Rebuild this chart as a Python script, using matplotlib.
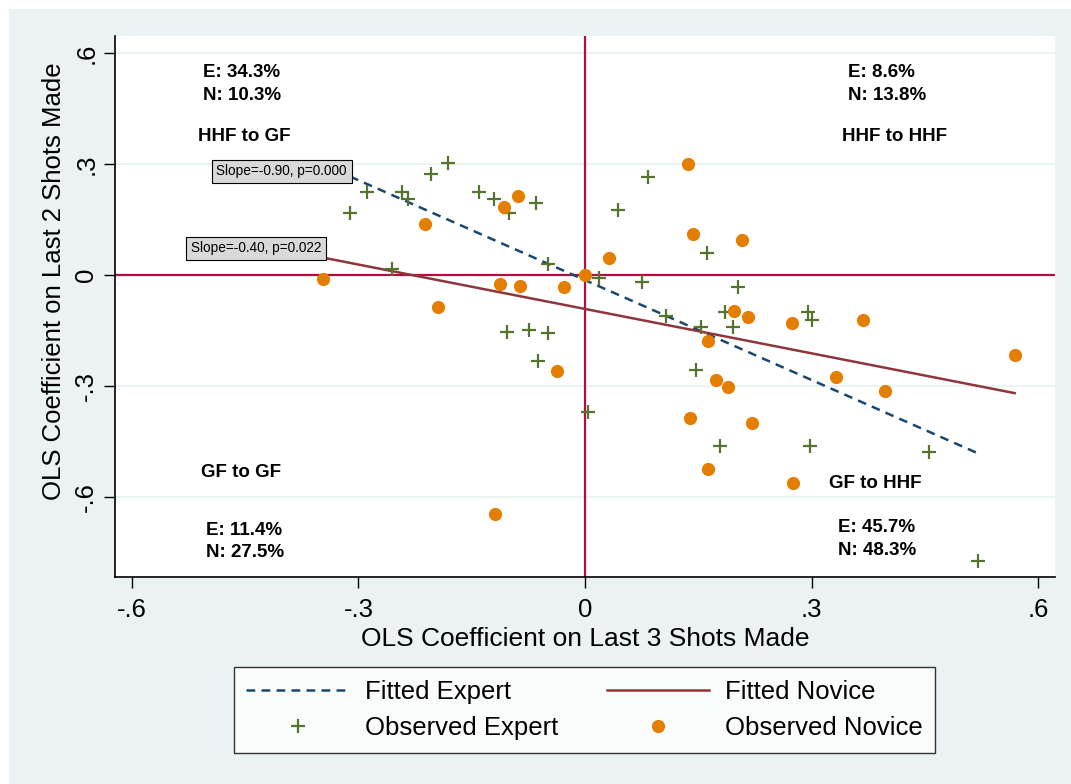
import numpy as np
import matplotlib
matplotlib.use("Agg")
import matplotlib.pyplot as plt
from matplotlib.lines import Line2D
from matplotlib.patches import Rectangle

plt.rcParams['font.family'] = ['Liberation Sans', 'DejaVu Sans']

# observed coefficients (x: last 3 shots, y: last 2 shots)
expert_x = [-0.182, -0.204, -0.289, -0.242, -0.234, -0.311, -0.255, -0.140, -0.120, -0.101,
            -0.065, -0.049, 0.018, 0.044, 0.083, 0.161, 0.075, 0.203, -0.103, -0.074,
            -0.049, -0.062, 0.004, 0.107, 0.154, 0.185, 0.196, 0.147, 0.179, 0.296,
            0.301, 0.298, 0.455, 0.521]
expert_y = [0.303, 0.274, 0.224, 0.224, 0.206, 0.169, 0.016, 0.226, 0.205, 0.168,
            0.195, 0.030, -0.006, 0.176, 0.267, 0.059, -0.019, -0.032, -0.154, -0.148,
            -0.157, -0.233, -0.371, -0.109, -0.141, -0.100, -0.141, -0.256, -0.461, -0.100,
            -0.121, -0.461, -0.479, -0.772]

novice_x = [-0.212, -0.107, -0.089, 0.032, 0.136, 0.143, 0.208, -0.347, -0.195, -0.113,
            -0.086, -0.028, -0.037, -0.119, 0.000, 0.198, 0.216, 0.163, 0.174, 0.190,
            0.139, 0.221, 0.163, 0.274, 0.368, 0.569, 0.332, 0.398, 0.276]
novice_y = [0.139, 0.184, 0.214, 0.048, 0.301, 0.112, 0.095, -0.011, -0.087, -0.024,
            -0.029, -0.032, -0.260, -0.645, 0.000, -0.097, -0.112, -0.179, -0.283, -0.301,
            -0.387, -0.400, -0.524, -0.130, -0.121, -0.215, -0.274, -0.312, -0.562]

# fitted lines (intercept, slope)
fit_expert = (-0.013, -0.90)
fit_novice = (-0.091, -0.40)
slope_labels = ["Slope=-0.90, p=0.000", "Slope=-0.40, p=0.022"]

quadrant_names = ["HHF to GF", "HHF to HHF", "GF to GF", "GF to HHF"]
quadrant_shares = [("E: 34.3%", "N: 10.3%"), ("E: 8.6%", "N: 13.8%"),
                   ("E: 11.4%", "N: 27.5%"), ("E: 45.7%", "N: 48.3%")]

ticks = [-0.6, -0.3, 0, 0.3, 0.6]
tick_labels = ["-.6", "-.3", "0", ".3", ".6"]

bg = '#EAF2F3'
c_expert_fit = '#1A476F'
c_novice_fit = '#90353B'
c_expert = '#55752F'
c_novice = '#E37E00'
c_ref = '#B01040'

fig = plt.figure(figsize=(10.71, 7.84), dpi=100, facecolor='white')
fig.patches.append(Rectangle((9 / 1071, 0), 1, 1 - 9 / 784, transform=fig.transFigure,
                             facecolor=bg, edgecolor='none', zorder=-10))

ax = fig.add_axes([115 / 1071, 1 - 576.7 / 784, 940 / 1071, 540.7 / 784])
ax.set_facecolor('white')
ax.set_xlim(-0.6225, 0.6225)
ax.set_ylim(-0.815, 0.647)

for v in [-0.6, -0.3, 0.3, 0.6]:
    ax.axhline(v, color=bg, lw=1.5, zorder=0)
ax.axhline(0, color=c_ref, lw=1.6, zorder=1)
ax.axvline(0, color=c_ref, lw=1.6, zorder=1)

ex = np.array(expert_x)
nx = np.array(novice_x)
xe = np.array([ex.min(), ex.max()])
xn = np.array([nx.min(), nx.max()])
ax.plot(xe, fit_expert[0] + fit_expert[1] * xe, color=c_expert_fit, lw=1.8,
        ls=(0, (3.5, 2.5)), zorder=3)
ax.plot(xn, fit_novice[0] + fit_novice[1] * xn, color=c_novice_fit, lw=1.8, zorder=3)

ax.plot(expert_x, expert_y, ls='none', marker='+', ms=10, mew=1.6, color=c_expert, zorder=4)
ax.plot(novice_x, novice_y, ls='none', marker='o', ms=9.5, mew=0, color=c_novice, zorder=4)

box = dict(boxstyle='square,pad=0.35', facecolor='#D9D9D9', edgecolor='black', lw=0.8)
ax.text(-0.4017, 0.281, slope_labels[0], fontsize=9.8, ha='center', va='center', bbox=box, zorder=5)
ax.text(-0.4355, 0.073, slope_labels[1], fontsize=9.8, ha='center', va='center', bbox=box, zorder=5)

# quadrant notes
qfs = 13.5
ax.text(-0.506, 0.548, quadrant_shares[0][0], fontsize=qfs, weight='bold', va='center')
ax.text(-0.506, 0.486, quadrant_shares[0][1], fontsize=qfs, weight='bold', va='center')
ax.text(-0.512, 0.375, quadrant_names[0], fontsize=qfs, weight='bold', va='center')
ax.text(0.348, 0.548, quadrant_shares[1][0], fontsize=qfs, weight='bold', va='center')
ax.text(0.348, 0.486, quadrant_shares[1][1], fontsize=qfs, weight='bold', va='center')
ax.text(0.341, 0.375, quadrant_names[1], fontsize=qfs, weight='bold', va='center')
ax.text(-0.508, -0.533, quadrant_names[2], fontsize=qfs, weight='bold', va='center')
ax.text(-0.502, -0.690, quadrant_shares[2][0], fontsize=qfs, weight='bold', va='center')
ax.text(-0.502, -0.749, quadrant_shares[2][1], fontsize=qfs, weight='bold', va='center')
ax.text(0.323, -0.563, quadrant_names[3], fontsize=qfs, weight='bold', va='center')
ax.text(0.3355, -0.682, quadrant_shares[3][0], fontsize=qfs, weight='bold', va='center')
ax.text(0.3355, -0.744, quadrant_shares[3][1], fontsize=qfs, weight='bold', va='center')

ax.set_xticks(ticks)
ax.set_xticklabels(tick_labels)
ax.set_yticks(ticks)
ax.set_yticklabels(tick_labels, rotation=90, va='center')
ax.tick_params(axis='both', labelsize=18.5, length=8, width=1, direction='out')
ax.tick_params(axis='x', pad=7)
ax.tick_params(axis='y', pad=4)

for s in ['top', 'right']:
    ax.spines[s].set_visible(False)
for s in ['left', 'bottom']:
    ax.spines[s].set_linewidth(1.2)

ax.set_xlabel("OLS Coefficient on Last 3 Shots Made", fontsize=19)
ax.set_ylabel("OLS Coefficient on Last 2 Shots Made", fontsize=18.5)
ax.xaxis.set_label_coords(0.5, -0.093)
ax.yaxis.set_label_coords(-0.052, 0.547)

handles = [
    Line2D([], [], color=c_expert_fit, lw=1.8, ls=(0, (3.5, 2.5))),
    Line2D([], [], ls='none', marker='+', ms=10, mew=1.6, color=c_expert),
    Line2D([], [], color=c_novice_fit, lw=1.8),
    Line2D([], [], ls='none', marker='o', ms=9.5, mew=0, color=c_novice),
]
labels = ["Fitted Expert", "Observed Expert", "Fitted Novice", "Observed Novice"]
leg = fig.legend(handles, labels, ncol=2, loc='center', bbox_to_anchor=(584.5 / 1071, 74 / 784),
                 fontsize=18.5, frameon=True, fancybox=False, edgecolor='black',
                 handlelength=4, handletextpad=0.6, columnspacing=1.9, labelspacing=0.5,
                 borderpad=0.5)
leg.get_frame().set_linewidth(1.0)

fig.savefig("out.png", dpi=100, facecolor=fig.get_facecolor())
